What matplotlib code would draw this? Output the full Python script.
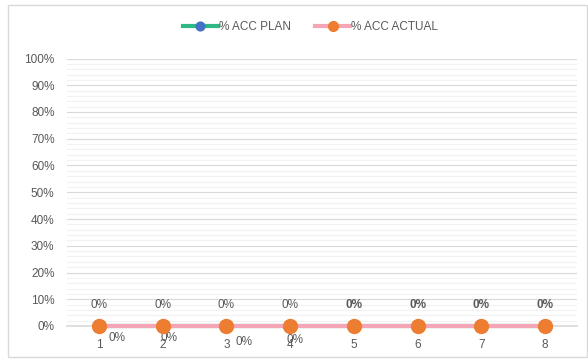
import numpy as np
import matplotlib.pyplot as plt
from matplotlib.ticker import MultipleLocator, PercentFormatter

plt.rcParams['font.family'] = ['Liberation Sans', 'DejaVu Sans']

# data
categories = ['1', '2', '3', '4', '5', '6', '7', '8']
acc_plan = [0, 0, 0, 0, 0, 0, 0, 0]
acc_actual = [0, 0, 0, 0, 0, 0, 0, 0]

x = np.arange(1, len(categories) + 1)

fig = plt.figure(figsize=(5.88, 3.62), dpi=100)
ax = fig.add_axes([67 / 588, 1 - 326 / 362, 510 / 588, (326 - 58.5) / 362])

# chart border
fig.patches.append(plt.Rectangle((8 / 588, 5 / 362), 579 / 588, 352 / 362,
                                 transform=fig.transFigure, fill=False,
                                 edgecolor='#D9D9D9', lw=1))

ax.plot(x, acc_plan, color='#2EB886', lw=3, marker='o', ms=9,
        mfc='#4472C4', mec='#4472C4', label='% ACC PLAN', zorder=3)
ax.plot(x, acc_actual, color='#F4A6B7', lw=3, marker='o', ms=10,
        mfc='#ED7D31', mec='#ED7D31', label='% ACC ACTUAL', zorder=4)

# data labels
grey = '#595959'
for i, (xi, v) in enumerate(zip(x, acc_plan)):
    ax.annotate(f'{v:.0%}', (xi, v), xytext=(0, 21), textcoords='offset pixels',
                ha='center', va='center', fontsize=8.5, color=grey,
                fontweight='bold' if i >= 4 else 'normal')
below = [(18, -12), (6, -12), (18, -16), (5, -14)]
for (xi, v), off in zip(zip(x, acc_actual), below):
    ax.annotate(f'{v:.0%}', (xi, v), xytext=off, textcoords='offset pixels',
                ha='center', va='center', fontsize=8.5, color=grey)

ax.set_xlim(0.5, 8.5)
ax.set_ylim(0, 1)
ax.set_xticks(x)
ax.set_xticklabels(categories)
ax.yaxis.set_major_locator(MultipleLocator(0.1))
ax.yaxis.set_minor_locator(MultipleLocator(0.02))
ax.yaxis.set_major_formatter(PercentFormatter(1, decimals=0))
ax.tick_params(axis='both', which='both', length=0, labelsize=8.5, labelcolor=grey)
ax.tick_params(axis='x', pad=9)
ax.tick_params(axis='y', pad=9)
ax.grid(axis='y', which='major', color='#D9D9D9', lw=0.8)
ax.grid(axis='y', which='minor', color='#F2F2F2', lw=0.8)
ax.set_axisbelow(True)
for s in ['top', 'right', 'left']:
    ax.spines[s].set_visible(False)
ax.spines['bottom'].set_color('#D9D9D9')
ax.spines['bottom'].set_linewidth(1.2)
for line in ax.lines:
    line.set_clip_on(False)

ax.legend(loc='center', bbox_to_anchor=(0.528, (362 - 27) / 362), bbox_transform=fig.transFigure,
          ncol=2, frameon=False, fontsize=8.5, labelcolor=grey, handlelength=3,
          handletextpad=0.1, columnspacing=2, markerscale=0.7)

fig.savefig('out.png', dpi=100)
